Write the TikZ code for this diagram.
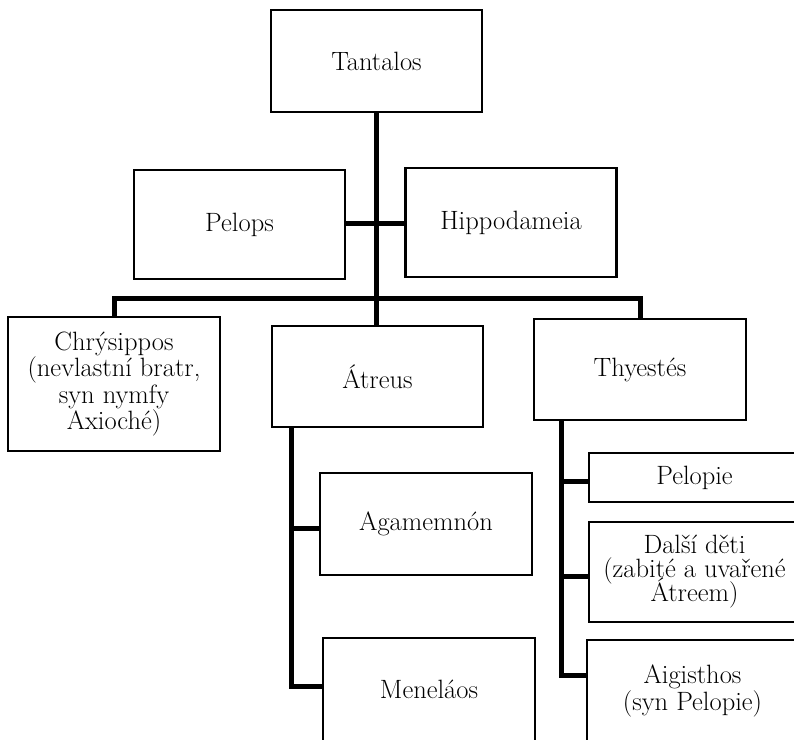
\documentclass[tikz,border=0pt]{standalone}
\newcommand\mybxfont{\fontsize{26.5}{23.5}\selectfont}
\newcommand\mytightfont{\fontsize{26.5}{24}\selectfont\setlength{\lineskiplimit}{-30pt}}
\begin{document}
\begin{tikzpicture}[x=1pt,y=-1pt,
  box/.style={draw=black,line width=2.4pt,fill=white,inner sep=0pt,align=center,
    font=\mybxfont},
  conn/.style={draw=black,line width=5pt,line join=miter}]
\useasboundingbox (0,0) rectangle (794,739);
\clip (0,0) rectangle (794,739);
\fill[white] (0,0) rectangle (794,739);
% boxes
\node[box,minimum width=211pt,minimum height=102pt] (tan) at (376.5,61) {Tantalos};
\node[box,minimum width=211pt,minimum height=109pt] (pel) at (239.5,224.5) {Pelops};
\node[box,minimum width=211pt,minimum height=109pt] (hip) at (511,222.5) {Hippodameia};
\node[box,minimum width=212pt,minimum height=134pt] (chr) at (114,384) {Chrýsippos\\(nevlastní bratr,\\syn nymfy\\Axioché)};
\node[box,minimum width=211pt,minimum height=101pt] (atr) at (377.5,376.5) {Átreus};
\node[box,minimum width=212pt,minimum height=101pt] (thy) at (640,369.5) {Thyestés};
\node[box,minimum width=212pt,minimum height=102pt] (aga) at (426,524) {Agamemnón};
\node[box,minimum width=212pt,minimum height=103pt] (men) at (429,689.5) {Meneláos};
\node[box,minimum width=211pt,minimum height=49pt] (pelo) at (694.5,477.5) {Pelopie};
\node[box,minimum width=211pt,minimum height=100pt,font=\mytightfont] (dal) at (694.5,572) {Další děti\\(zabité a uvařené\\Átreem)};
\node[box,minimum width=211pt,minimum height=102pt] (aig) at (692.5,691) {Aigisthos\\(syn Pelopie)};
% routing coordinates
\coordinate (ax) at (291,0);
\coordinate (tx) at (561,0);
\coordinate (bar) at (0,298);
\coordinate (ay) at (0,528);
\coordinate (my) at (0,686);
\coordinate (py) at (0,481);
\coordinate (dy) at (0,576);
\coordinate (gy) at (0,675);
\coordinate (hy) at (0,223);
% connectors
\draw[conn] (tan.south) -- (tan.south |- atr.north);
\draw[conn] (pel.east |- hy) -- (hip.west |- hy);
\draw[conn] (chr.north) |- (bar -| tan.south) -| (thy.north);
\draw[conn] (atr.south -| ax) |- (men.west |- my);
\draw[conn] (ax |- ay) -- (aga.west |- ay);
\draw[conn] (thy.south -| tx) |- (aig.west |- gy);
\draw[conn] (tx |- py) -- (pelo.west |- py);
\draw[conn] (tx |- dy) -- (dal.west |- dy);
\end{tikzpicture}
\end{document}
